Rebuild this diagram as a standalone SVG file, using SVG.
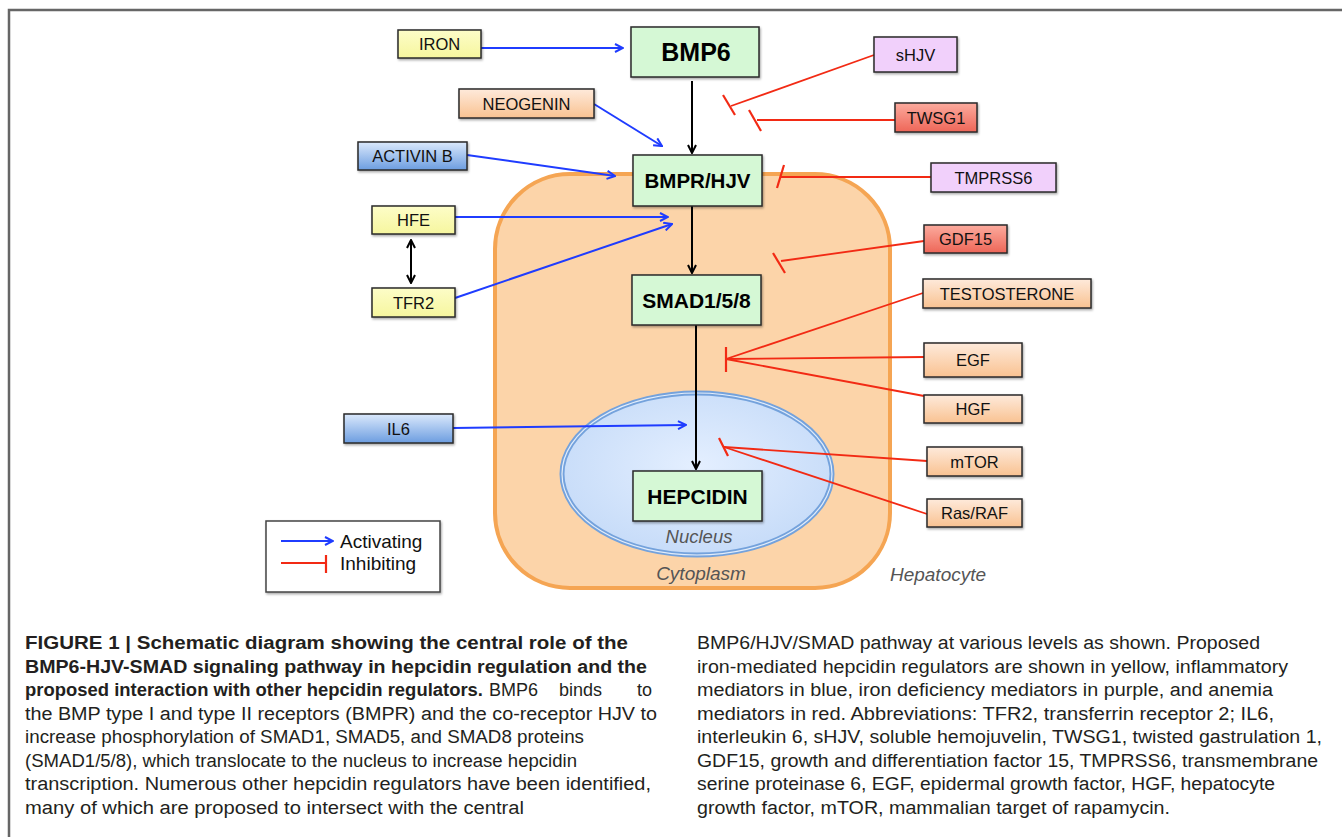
<svg xmlns="http://www.w3.org/2000/svg" width="1342" height="837" viewBox="0 0 1342 837">
<style>
.box{stroke:#2a2a2a;stroke-width:1.5;filter:url(#sh)}
.lbl{font-family:"Liberation Sans",Arial,sans-serif;font-size:16.5px;fill:#111;text-anchor:middle}
.big{font-family:"Liberation Sans",Arial,sans-serif;font-weight:bold;fill:#000;text-anchor:middle}
.act{stroke:#1f3cff;stroke-width:2;fill:none}
.blk{stroke:#000;stroke-width:2;fill:none}
.inh{stroke:#f22a14;stroke-width:1.8;fill:none}
.bar{stroke:#f22a14;stroke-width:2.2;fill:none}
.it{font-family:"Liberation Sans",Arial,sans-serif;font-style:italic;fill:#555;text-anchor:middle}
.cap{font-family:"Liberation Sans",Arial,sans-serif;font-size:18px;fill:#231f20}
.capb{font-family:"Liberation Sans",Arial,sans-serif;font-size:18px;font-weight:bold;fill:#231f20}
.leg{font-family:"Liberation Sans",Arial,sans-serif;font-size:19px;fill:#111}
</style>
<defs>
<filter id="sh" x="-10%" y="-20%" width="130%" height="150%"><feDropShadow dx="1" dy="1.5" stdDeviation="1" flood-color="#000" flood-opacity="0.35"/></filter>
<linearGradient id="gy" x1="0" y1="0" x2="0" y2="1"><stop offset="0" stop-color="#fdfdc8"/><stop offset="1" stop-color="#f6f69e"/></linearGradient>
<linearGradient id="gp" x1="0" y1="0" x2="0" y2="1"><stop offset="0" stop-color="#feeadb"/><stop offset="1" stop-color="#f9c291"/></linearGradient>
<linearGradient id="gb" x1="0" y1="0" x2="0" y2="1"><stop offset="0" stop-color="#dbe9fc"/><stop offset="1" stop-color="#6c9de0"/></linearGradient>
<linearGradient id="gr" x1="0" y1="0" x2="0" y2="1"><stop offset="0" stop-color="#fcab9e"/><stop offset="1" stop-color="#ee6658"/></linearGradient>
<radialGradient id="gn" cx="0.5" cy="0.45" r="0.6"><stop offset="0" stop-color="#e4efff"/><stop offset="1" stop-color="#c4daf8"/></radialGradient>
<marker id="ab" viewBox="0 0 10 10" refX="9" refY="5" markerWidth="10" markerHeight="10" markerUnits="userSpaceOnUse" orient="auto"><path d="M1,1 L9,5 L1,9" fill="none" stroke="#1f3cff" stroke-width="2"/></marker>
<marker id="ak" viewBox="0 0 10 10" refX="9" refY="5" markerWidth="10" markerHeight="10" markerUnits="userSpaceOnUse" orient="auto-start-reverse"><path d="M1,1 L9,5 L1,9" fill="none" stroke="#000" stroke-width="2"/></marker>
</defs>
<rect width="1342" height="837" fill="#fff"/>
<path d="M9,837 L9,10 L1342,10" fill="none" stroke="#666" stroke-width="2.5"/>

<g id="hepatocyte">
<rect x="495" y="174" width="395" height="414" rx="75" fill="#fcd4a9" stroke="#f5a553" stroke-width="4"/>
<text class="it" x="701" y="580" font-size="19">Cytoplasm</text>
<text class="it" x="938" y="581" font-size="19">Hepatocyte</text>
</g>
<g id="nucleus">
<ellipse cx="697" cy="474" rx="135" ry="81" fill="url(#gn)" stroke="#74a2dc" stroke-width="5"/>
<ellipse cx="697" cy="474" rx="135" ry="81" fill="none" stroke="#e2edfb" stroke-width="1.2"/>
<text class="it" x="699" y="543" font-size="18.5">Nucleus</text>
</g>

<g id="connectors">
<path class="act" d="M481,48 L623,48" marker-end="url(#ab)"/>
<path class="act" d="M594,104 L662,146" marker-end="url(#ab)"/>
<path class="act" d="M467,155 L615,176" marker-end="url(#ab)"/>
<path class="act" d="M455,217 L668,217" marker-end="url(#ab)"/>
<path class="act" d="M455,298 L672,224" marker-end="url(#ab)"/>
<path class="act" d="M453,428 L686,425" marker-end="url(#ab)"/>
<path class="blk" d="M411,240 L411,283" marker-start="url(#ak)" marker-end="url(#ak)"/>
<path class="blk" d="M692,81 L692,153" marker-end="url(#ak)"/>
<path class="blk" d="M692,206 L692,273" marker-end="url(#ak)"/>
<path class="blk" d="M696,325 L696,469" marker-end="url(#ak)"/>
<path class="inh" d="M874,55 L731,106"/><path class="bar" d="M723,95 L735,115"/>
<path class="inh" d="M895,120 L757,120"/><path class="bar" d="M749,110 L761,131"/>
<path class="inh" d="M931,177 L780,177"/><path class="bar" d="M784,165 L777,188"/>
<path class="inh" d="M924,241 L781,261"/><path class="bar" d="M773,253 L785,273"/>
<path class="inh" d="M923,293 L726,359"/>
<path class="inh" d="M924,357 L726,359"/>
<path class="inh" d="M924,396 L726,359"/>
<path class="bar" d="M726,347 L726,372"/>
<path class="inh" d="M927,461 L724,447"/>
<path class="inh" d="M927,514 L724,447"/>
<path class="bar" d="M719,438 L728,456"/>
</g>

<g id="iron"><rect class="box" x="398" y="30" width="83" height="28" fill="url(#gy)"/><text class="lbl" x="439.5" y="50">IRON</text></g>
<g id="bmp6"><rect class="box" x="631" y="27" width="128" height="50" fill="#d5f8d5"/><text class="big" x="696" y="61" font-size="25">BMP6</text></g>
<g id="neogenin"><rect class="box" x="459" y="89" width="135" height="29" fill="url(#gp)"/><text class="lbl" x="526.5" y="109.5">NEOGENIN</text></g>
<g id="activinb"><rect class="box" x="358" y="142" width="109" height="28" fill="url(#gb)"/><text class="lbl" x="412.5" y="162">ACTIVIN B</text></g>
<g id="bmpr"><rect class="box" x="633" y="155" width="129" height="51" fill="#d5f8d5"/><text class="big" x="697.5" y="188" font-size="20.5">BMPR/HJV</text></g>
<g id="shjv"><rect class="box" x="874" y="37" width="83" height="35" fill="#f1d0fb"/><text class="lbl" x="915.5" y="60.5">sHJV</text></g>
<g id="twsg1"><rect class="box" x="895" y="103" width="82" height="29" fill="url(#gr)"/><text class="lbl" x="936" y="123.5">TWSG1</text></g>
<g id="tmprss6"><rect class="box" x="931" y="163" width="125" height="29" fill="#f1d0fb"/><text class="lbl" x="993.5" y="183.5">TMPRSS6</text></g>
<g id="hfe"><rect class="box" x="372" y="206" width="83" height="28" fill="url(#gy)"/><text class="lbl" x="413.5" y="226">HFE</text></g>
<g id="tfr2"><rect class="box" x="372" y="288" width="83" height="29" fill="url(#gy)"/><text class="lbl" x="413.5" y="308.5">TFR2</text></g>
<g id="smad"><rect class="box" x="632" y="275" width="129" height="50" fill="#d5f8d5"/><text class="big" x="696.5" y="307.5" font-size="21">SMAD1/5/8</text></g>
<g id="gdf15"><rect class="box" x="924" y="225" width="83" height="28" fill="url(#gr)"/><text class="lbl" x="965.5" y="245">GDF15</text></g>
<g id="testosterone"><rect class="box" x="923" y="279" width="168" height="29" fill="url(#gp)"/><text class="lbl" x="1007" y="299.5" font-size="17">TESTOSTERONE</text></g>
<g id="egf"><rect class="box" x="924" y="343" width="98" height="34" fill="url(#gp)"/><text class="lbl" x="973" y="366">EGF</text></g>
<g id="hgf"><rect class="box" x="924" y="395" width="98" height="28" fill="url(#gp)"/><text class="lbl" x="973" y="415">HGF</text></g>
<g id="il6"><rect class="box" x="344" y="414" width="109" height="29" fill="url(#gb)"/><text class="lbl" x="398.5" y="434.5">IL6</text></g>
<g id="hepcidin"><rect class="box" x="633" y="471" width="129" height="50" fill="#d5f8d5"/><text class="big" x="697.5" y="503.5" font-size="21">HEPCIDIN</text></g>
<g id="mtor"><rect class="box" x="927" y="447" width="95" height="29" fill="url(#gp)"/><text class="lbl" x="974.5" y="467.5">mTOR</text></g>
<g id="rasraf"><rect class="box" x="927" y="499" width="95" height="28" fill="url(#gp)"/><text class="lbl" x="974.5" y="519">Ras/RAF</text></g>

<g id="legend">
<rect x="266" y="521" width="174" height="71" fill="#fff" stroke="#444" stroke-width="1.5" filter="url(#sh)"/>
<path class="act" d="M281,541 L333,541" marker-end="url(#ab)"/>
<path class="inh" d="M281,563 L326,563"/><path class="bar" d="M326,555 L326,573"/>
<text class="leg" x="340" y="548">Activating</text>
<text class="leg" x="340" y="570">Inhibiting</text>
</g>

<g id="caption">
<text class="capb" x="25" y="649" textLength="603" lengthAdjust="spacingAndGlyphs">FIGURE 1 | Schematic diagram showing the central role of the</text>
<text class="capb" x="25" y="672.5" textLength="622" lengthAdjust="spacingAndGlyphs">BMP6-HJV-SMAD signaling pathway in hepcidin regulation and the</text>
<text class="capb" x="25" y="696" textLength="458" lengthAdjust="spacingAndGlyphs">proposed interaction with other hepcidin regulators.</text>
<text class="cap" x="489" y="696"><tspan>BMP6</tspan><tspan x="559">binds</tspan><tspan x="637">to</tspan></text>
<text class="cap" x="25" y="719.5" textLength="632" lengthAdjust="spacingAndGlyphs">the BMP type I and type II receptors (BMPR) and the co-receptor HJV to</text>
<text class="cap" x="25" y="743" textLength="559" lengthAdjust="spacingAndGlyphs">increase phosphorylation of SMAD1, SMAD5, and SMAD8 proteins</text>
<text class="cap" x="25" y="766.5" textLength="552" lengthAdjust="spacingAndGlyphs">(SMAD1/5/8), which translocate to the nucleus to increase hepcidin</text>
<text class="cap" x="25" y="790" textLength="626" lengthAdjust="spacingAndGlyphs">transcription. Numerous other hepcidin regulators have been identified,</text>
<text class="cap" x="25" y="813.5" textLength="499" lengthAdjust="spacingAndGlyphs">many of which are proposed to intersect with the central</text>
<text class="cap" x="697" y="649" textLength="563" lengthAdjust="spacingAndGlyphs">BMP6/HJV/SMAD pathway at various levels as shown. Proposed</text>
<text class="cap" x="697" y="672.5" textLength="591" lengthAdjust="spacingAndGlyphs">iron-mediated hepcidin regulators are shown in yellow, inflammatory</text>
<text class="cap" x="697" y="696" textLength="576" lengthAdjust="spacingAndGlyphs">mediators in blue, iron deficiency mediators in purple, and anemia</text>
<text class="cap" x="697" y="719.5" textLength="577" lengthAdjust="spacingAndGlyphs">mediators in red. Abbreviations: TFR2, transferrin receptor 2; IL6,</text>
<text class="cap" x="697" y="743" textLength="625" lengthAdjust="spacingAndGlyphs">interleukin 6, sHJV, soluble hemojuvelin, TWSG1, twisted gastrulation 1,</text>
<text class="cap" x="697" y="766.5" textLength="621" lengthAdjust="spacingAndGlyphs">GDF15, growth and differentiation factor 15, TMPRSS6, transmembrane</text>
<text class="cap" x="697" y="790" textLength="578" lengthAdjust="spacingAndGlyphs">serine proteinase 6, EGF, epidermal growth factor, HGF, hepatocyte</text>
<text class="cap" x="697" y="813.5" textLength="473" lengthAdjust="spacingAndGlyphs">growth factor, mTOR, mammalian target of rapamycin.</text>
</g>
</svg>
